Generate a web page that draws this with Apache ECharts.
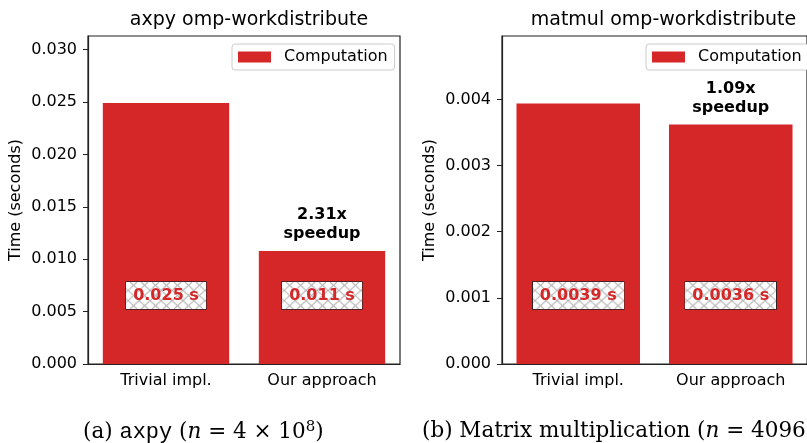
<!DOCTYPE html>
<html><head><meta charset="utf-8">
<script src="https://cdn.jsdelivr.net/npm/echarts@6/dist/echarts.min.js"></script>
<style>html,body{margin:0;padding:0;background:#fff}#c{width:807px;height:443px}</style>
</head><body><div id="c"></div>
<script>
const categories = ['Trivial impl.', 'Our approach'];
const axpyTimes = [0.0249, 0.01078];
const matmulTimes = [0.00394, 0.00362];
const axpySpeedup = ['', '2.31x\nspeedup'];
const matmulSpeedup = ['', '1.09x\nspeedup'];
const axpyTicks = [0, 0.005, 0.010, 0.015, 0.020, 0.025, 0.030];
const matmulTicks = [0, 0.001, 0.002, 0.003, 0.004];
const axpyMax = 0.0313;
const matmulMax = 0.00496;
const titles = ['axpy omp-workdistribute', 'matmul omp-workdistribute'];
const seriesName = 'Computation';

const RED = '#d62728';
const FONT = 'DejaVu Sans';

function makeHatch(w, h) {
  const c = document.createElement('canvas');
  c.width = w; c.height = h;
  const g = c.getContext('2d');
  g.fillStyle = '#fff'; g.fillRect(0, 0, w, h);
  g.strokeStyle = '#b8b8b8'; g.lineWidth = 1.2;
  const s = 11;
  for (let k = -h; k < w + h; k += s) {
    g.beginPath(); g.moveTo(k, 0); g.lineTo(k + h, h); g.stroke();
    g.beginPath(); g.moveTo(k + h, 0); g.lineTo(k, h); g.stroke();
  }
  return c;
}
const hatchA = makeHatch(80, 29);
const hatchB = makeHatch(90, 29);

const grids = [
  {left: 88, top: 36, width: 312, height: 328},
  {left: 502, top: 36, width: 313, height: 328}
];

function panel(i, times, speed, ticks, ymax, hatch, legendLeft) {
  return {
    grid: Object.assign({show: true, borderColor: '#222', borderWidth: 1.2, backgroundColor: 'transparent'}, grids[i]),
    xAxis: {
      type: 'category', gridIndex: i, data: categories,
      axisLine: {lineStyle: {color: '#222', width: 1.2}},
      axisTick: {alignWithLabel: true, length: 5, lineStyle: {color: '#222'}},
      axisLabel: {color: '#000', fontSize: 16, fontFamily: FONT, margin: 9}
    },
    yAxis: {
      type: 'value', gridIndex: i, min: 0, max: ymax,
      name: 'Time (seconds)', nameLocation: 'middle', nameGap: 64,
      nameTextStyle: {color: '#000', fontSize: 16, fontFamily: FONT},
      splitLine: {show: false},
      axisLine: {show: true, lineStyle: {color: '#222', width: 1.2}},
      axisTick: {show: true, length: 5, customValues: ticks, lineStyle: {color: '#222'}},
      axisLabel: {color: '#000', fontSize: 16, fontFamily: FONT, margin: 11,
        customValues: ticks, formatter: v => v.toFixed(3)}
    },
    title: {text: titles[i], left: grids[i].left + grids[i].width / 2, textAlign: 'center', top: 6,
      textStyle: {fontSize: 19, fontWeight: 'normal', color: '#000', fontFamily: FONT}},
    legend: {
      data: [{name: seriesName, icon: 'rect'}], left: legendLeft, top: 44, orient: 'vertical',
      itemWidth: 33, itemHeight: 11, padding: [5, 7, 5, 6],
      backgroundColor: '#fff', borderColor: '#ccc', borderWidth: 1, borderRadius: 3,
      textStyle: {fontSize: 16, fontFamily: FONT, color: '#000', rich: {a: {padding: [0, 0, 0, 8], fontSize: 16, fontFamily: FONT, color: '#000'}}},
      formatter: n => '{a|' + n + '}'
    },
    series: [
      {
        type: 'bar', name: seriesName, xAxisIndex: i, yAxisIndex: i, data: times,
        barWidth: '81%', itemStyle: {color: RED},
        label: {
          show: true, position: 'insideBottom', distance: 55,
          formatter: p => Number(p.value).toPrecision(2) + ' s',
          color: RED, fontWeight: 'bold', fontSize: 16, fontFamily: FONT, lineHeight: 18,
          padding: [5, 7, 4, 7], backgroundColor: {image: hatch},
          borderColor: '#222', borderWidth: 1.5
        }
      },
      {
        type: 'scatter', name: 'speedup' + i, xAxisIndex: i, yAxisIndex: i, data: times,
        symbolSize: 1, itemStyle: {color: '#fff', opacity: 0}, silent: true, z: 5,
        label: {
          show: true, position: 'top', distance: 7, opacity: 1,
          formatter: p => speed[p.dataIndex],
          color: '#000', fontWeight: 'bold', fontSize: 16, fontFamily: FONT, lineHeight: 19, align: 'center'
        }
      }
    ]
  };
}

const p0 = panel(0, axpyTimes, axpySpeedup, axpyTicks, axpyMax, hatchA, 232);
const p1 = panel(1, matmulTimes, matmulSpeedup, matmulTicks, matmulMax, hatchB, 646);

const SERIF = 'DejaVu Serif';
const rich = {
  r: {fontFamily: SERIF, fontSize: 21.5, color: '#000'},
  m: {fontFamily: 'Liberation Mono', fontSize: 22, color: '#000'},
  i: {fontFamily: SERIF, fontSize: 21.5, fontStyle: 'italic', color: '#000'},
  sup: {fontFamily: SERIF, fontSize: 15, color: '#000', verticalAlign: 'top', padding: [0, 0, 9, 0]}
};

const option = {
  animation: false,
  backgroundColor: '#fff',
  grid: [p0.grid, p1.grid],
  xAxis: [p0.xAxis, p1.xAxis],
  yAxis: [p0.yAxis, p1.yAxis],
  title: [p0.title, p1.title],
  legend: [p0.legend, p1.legend],
  series: [...p0.series, ...p1.series],
  graphic: [
    {type: 'text', left: 83, top: 420, style: {text: '{r|(a) }{m|axpy}{r| (}{i|n}{r| = 4 × 10}{sup|8}{r|)}', rich: rich}},
    {type: 'text', left: 422, top: 420, style: {text: '{r|(b) Matrix multiplication (}{i|n}{r| = 4096)}', rich: rich}}
  ]
};
const chart = echarts.init(document.getElementById('c'), null, {renderer: 'canvas'});
chart.setOption(option);
</script></body></html>
